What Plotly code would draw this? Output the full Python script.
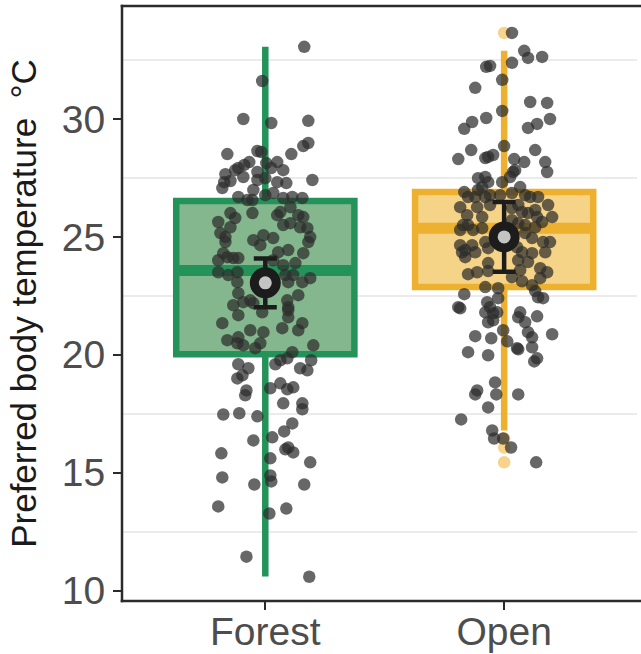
import plotly.graph_objects as go

# ---------------- data ----------------
categories = ["Forest", "Open"]
cat_pos = [1, 2]

forest_temp = [33.06, 31.61, 30.00, 29.83, 29.92, 28.51, 28.64, 28.60, 28.51, 28.85,
               28.98, 28.17, 28.05, 27.92, 27.83, 28.17, 28.13, 27.92, 27.83, 27.66,
               27.75, 27.41, 27.28, 27.32, 27.07, 27.37, 27.41, 27.49, 27.32, 27.54,
               26.99, 26.69, 26.56, 26.56, 26.77, 26.86, 26.65, 26.69, 26.65, 26.01,
               25.80, 25.63, 26.01, 25.92, 26.05, 25.92, 25.84, 25.50, 25.58, 25.41,
               25.37, 24.99, 24.78, 25.16, 24.99, 25.41, 24.78, 25.07, 24.95, 24.86,
               24.65, 24.35, 24.44, 24.31, 24.31, 24.14, 24.01, 24.10, 24.10, 24.01,
               23.89, 23.80, 23.50, 23.38, 23.50, 23.08, 23.38, 23.38, 23.08, 23.25,
               23.08, 22.61, 22.53, 22.10, 22.23, 22.31, 22.19, 22.02, 26.26, 22.31,
               21.80, 21.89, 21.59, 21.68, 21.34, 21.34, 21.04, 21.04, 20.96, 20.62,
               20.74, 20.49, 20.40, 20.49, 20.28, 20.40, 20.11, 19.77, 19.60, 19.85,
               19.77, 19.60, 19.43, 19.43, 19.34, 19.13, 19.00, 18.79, 18.58, 18.62,
               18.54, 18.49, 18.28, 17.94, 17.94, 17.69, 17.47, 17.52, 17.39, 17.09,
               16.75, 16.50, 16.37, 15.99, 16.07, 15.86, 15.82, 15.61, 15.44, 14.80,
               14.88, 14.63, 14.50, 14.50, 13.57, 13.48, 13.27, 11.44, 10.59, 21.13]
forest_jitter = [0.163, -0.013, -0.092, 0.025, 0.180, -0.159, -0.033, -0.017, 0.109, 0.159,
                 0.180, -0.067, -0.088, -0.113, -0.126, 0.050, 0.004, 0.025, 0.075, -0.167,
                 -0.033, 0.197, 0.088, -0.172, -0.180, -0.146, -0.033, 0.000, 0.050, -0.092,
                 -0.050, -0.113, -0.075, -0.054, 0.000, 0.033, 0.075, 0.113, 0.155, -0.146,
                 -0.126, -0.197, -0.054, 0.050, 0.063, 0.138, 0.159, 0.075, 0.105, 0.146,
                 0.176, 0.188, 0.180, -0.188, -0.167, -0.146, -0.167, -0.008, 0.033, -0.050,
                 -0.021, 0.054, 0.096, 0.159, -0.176, -0.159, -0.197, -0.134, -0.113, 0.033,
                 0.126, 0.075, -0.197, -0.155, -0.117, -0.117, 0.084, 0.117, 0.155, 0.188,
                 0.096, -0.113, 0.138, -0.134, -0.092, -0.063, -0.050, 0.096, 0.105, 0.092,
                 -0.013, 0.096, 0.096, -0.113, -0.180, 0.155, 0.138, -0.063, -0.008, -0.159,
                 -0.113, -0.117, -0.092, -0.021, -0.042, 0.201, 0.113, 0.063, 0.042, 0.092,
                 0.192, -0.113, -0.071, 0.146, 0.176, -0.096, -0.117, 0.063, 0.021, 0.117,
                 0.092, -0.079, -0.084, 0.075, 0.155, 0.155, -0.176, -0.109, -0.033, 0.113,
                 0.079, 0.029, -0.050, 0.084, 0.096, 0.117, -0.184, 0.021, 0.188, -0.180,
                 0.021, 0.025, -0.046, 0.163, -0.197, 0.088, 0.017, -0.079, 0.184, 0.071]

open_temp = [33.65, 32.89, 32.59, 32.63, 32.38, 32.21, 32.25, 31.66, 31.32, 30.72,
             30.68, 30.34, 30.04, 29.87, 29.58, 29.62, 29.79, 30.00, 28.85, 28.68,
             28.68, 28.30, 28.39, 28.47, 28.34, 28.30, 28.17, 28.17, 27.75, 27.49,
             27.54, 27.32, 27.32, 27.75, 27.83, 27.54, 27.11, 27.11, 26.99, 26.90,
             26.69, 26.69, 26.69, 26.77, 26.77, 26.86, 26.77, 26.69, 26.69, 26.35,
             26.26, 25.92, 26.26, 25.84, 26.35, 26.22, 26.35, 26.05, 26.01, 26.14,
             25.84, 25.84, 25.50, 25.29, 25.50, 25.29, 25.37, 25.71, 25.58, 25.50,
             25.41, 25.63, 25.16, 24.95, 24.78, 24.78, 24.65, 24.44, 24.35, 24.65,
             24.35, 24.78, 24.52, 24.56, 24.35, 24.31, 24.35, 24.14, 23.89, 24.01,
             23.93, 23.42, 23.50, 23.55, 23.29, 23.59, 23.67, 23.50, 23.12, 23.25,
             22.95, 22.87, 22.82, 22.70, 22.57, 22.40, 22.44, 22.40, 22.23, 22.02,
             21.97, 22.02, 21.76, 21.80, 21.80, 21.80, 21.59, 21.63, 21.38, 21.46,
             21.38, 20.96, 21.04, 20.87, 20.79, 20.70, 20.74, 20.57, 20.28, 20.23,
             20.32, 20.11, 19.98, 19.85, 19.72, 18.83, 18.49, 18.32, 18.32, 18.32,
             17.77, 17.26, 16.79, 16.45, 16.45, 16.07, 15.44]
open_jitter = [0.033, 0.084, 0.100, 0.159, 0.033, -0.075, -0.059, -0.008, -0.121, 0.109,
               0.180, -0.008, -0.075, -0.134, -0.167, 0.100, 0.138, 0.192, 0.000, -0.138,
               0.130, -0.192, -0.067, -0.046, -0.079, 0.042, 0.084, 0.172, 0.180, -0.109,
               -0.079, -0.067, -0.008, 0.038, 0.046, 0.025, 0.067, -0.092, -0.109, -0.167,
               -0.151, -0.121, -0.079, -0.059, -0.017, 0.033, 0.088, 0.109, 0.142, 0.184,
               -0.184, -0.155, -0.113, -0.092, -0.059, 0.033, 0.059, 0.075, 0.100, 0.130,
               0.138, 0.201, -0.172, -0.184, -0.151, -0.130, -0.092, 0.033, 0.059, 0.088,
               0.130, 0.159, 0.088, 0.117, 0.163, 0.192, -0.184, -0.163, -0.176, -0.134,
               -0.121, -0.079, -0.067, 0.054, 0.075, 0.117, 0.172, -0.163, -0.067, 0.059,
               0.100, -0.151, -0.113, -0.067, 0.033, 0.067, 0.151, 0.180, 0.075, 0.151,
               0.117, -0.079, -0.025, 0.130, -0.167, -0.025, 0.142, 0.163, -0.071, -0.192,
               -0.184, -0.059, -0.046, -0.079, -0.029, 0.067, 0.059, 0.138, -0.067, -0.046,
               0.088, 0.100, -0.004, 0.201, -0.121, -0.054, 0.117, 0.013, 0.054, 0.059,
               0.117, -0.151, -0.067, 0.138, 0.126, -0.038, -0.113, -0.121, -0.033, 0.059,
               -0.067, -0.180, -0.050, -0.042, -0.004, 0.029, 0.134]

# box statistics
box_q1 = [20.02, 22.87]
box_median = [23.57, 25.37]
box_q3 = [26.52, 26.90]
box_lower = [10.60, 16.79]
box_upper = [33.06, 32.89]
open_outliers = [33.65, 16.45, 16.07, 15.44]

# mean +/- error
means = [23.05, 25.00]
mean_err = [1.03, 1.48]

y_ticks = [10, 15, 20, 25, 30]
y_minor = [12.5, 17.5, 22.5, 27.5, 32.5]

# ---------------- styling ----------------
line_colors = ["#23935a", "#eeb02f"]
fill_colors = ["#85b78e", "#f6d487"]
outlier_color = "rgba(244,196,100,0.75)"
point_color = "rgba(45,45,45,0.72)"
axis_color = "#2b2b2b"
box_width = 0.746
font_family = "Liberation Sans, Arial, sans-serif"

fig = go.Figure()

for i in range(2):
    fig.add_trace(go.Box(
        x=[cat_pos[i]], q1=[box_q1[i]], median=[box_median[i]], q3=[box_q3[i]],
        lowerfence=[box_lower[i]], upperfence=[box_upper[i]],
        width=box_width, whiskerwidth=0, boxpoints=False,
        line=dict(color=line_colors[i], width=6.5),
        fillcolor=fill_colors[i], hoverinfo="skip", showlegend=False,
    ))
    # thicker median bar
    fig.add_trace(go.Scatter(
        x=[cat_pos[i] - box_width / 2 + 0.012, cat_pos[i] + box_width / 2 - 0.012],
        y=[box_median[i], box_median[i]], mode="lines",
        line=dict(color=line_colors[i], width=11), hoverinfo="skip", showlegend=False,
    ))

# outliers of the Open box
fig.add_trace(go.Scatter(
    x=[cat_pos[1]] * len(open_outliers), y=open_outliers, mode="markers",
    marker=dict(size=12.5, color=outlier_color), hoverinfo="skip", showlegend=False,
))

# jittered raw points
fig.add_trace(go.Scatter(
    x=[cat_pos[0] + j for j in forest_jitter], y=forest_temp, mode="markers",
    marker=dict(size=12.5, color=point_color), showlegend=False,
))
fig.add_trace(go.Scatter(
    x=[cat_pos[1] + j for j in open_jitter], y=open_temp, mode="markers",
    marker=dict(size=12.5, color=point_color), showlegend=False,
))

# mean with error bars
fig.add_trace(go.Scatter(
    x=cat_pos, y=means, mode="markers",
    error_y=dict(type="data", array=mean_err, visible=True, thickness=4.5,
                 width=11.5, color="#1c1c1c"),
    marker=dict(size=22, color="#c4c4c4", line=dict(width=9, color="#1c1c1c")),
    showlegend=False,
))

# the panel continues past the right edge of the picture: keep that edge open
fig.add_shape(type="rect", xref="paper", yref="paper", x0=0.9923, x1=1.02,
              y0=-0.01, y1=1.01, line=dict(width=0), fillcolor="white", layer="above")
# panel border: top, left and bottom
fig.add_shape(type="line", xref="paper", yref="paper", x0=-0.0025, x1=1.02, y0=1, y1=1,
              line=dict(color=axis_color, width=2.5), layer="above")
fig.add_shape(type="line", xref="paper", yref="paper", x0=-0.0025, x1=1.02, y0=0, y1=0,
              line=dict(color=axis_color, width=2.5), layer="above")
fig.add_shape(type="line", xref="paper", yref="paper", x0=0, x1=0, y0=-0.002, y1=1.002,
              line=dict(color=axis_color, width=2.5), layer="above")

fig.update_layout(
    width=641, height=654,
    margin=dict(l=122, r=0, t=6, b=53, autoexpand=False),
    paper_bgcolor="white", plot_bgcolor="white",
    font=dict(family=font_family, color="#4d4d4d"),
    showlegend=False,
)

fig.update_xaxes(
    range=[0.4, 2.573], tickmode="array", tickvals=cat_pos, ticktext=categories,
    showgrid=False, zeroline=False, automargin=False,
    showline=False,
    ticks="outside", ticklen=8, tickwidth=2, tickcolor=axis_color,
    ticklabelstandoff=-12,
    tickfont=dict(size=39, color="#4d4d4d", family=font_family),
)
fig.update_yaxes(
    range=[9.56, 34.79], tickmode="array", tickvals=y_ticks,
    showgrid=False, zeroline=False, automargin=False,
    minor=dict(tickmode="array", tickvals=y_minor, showgrid=True,
               gridcolor="#ebebeb", gridwidth=1.5),
    showline=False,
    ticks="outside", ticklen=8, tickwidth=2, tickcolor=axis_color,
    tickfont=dict(size=39, color="#4d4d4d", family=font_family),
    title=dict(text="Preferred body temperature  °C",
               font=dict(size=35, color="#1a1a1a", family=font_family), standoff=14),
)

fig.write_html(
    "out.html",
    config={"displayModeBar": False},
    post_script="document.body.style.margin='0';document.body.style.overflow='hidden';",
)
